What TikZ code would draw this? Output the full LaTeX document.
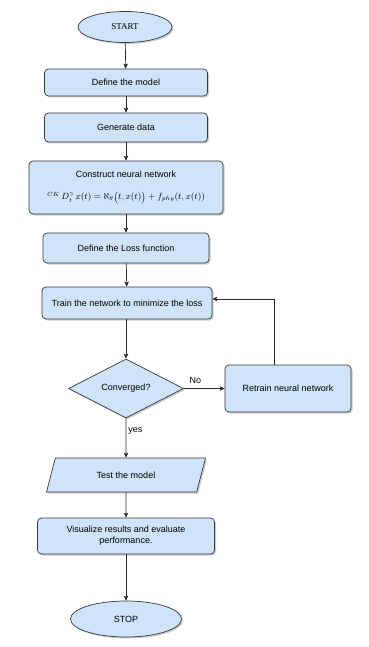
\documentclass[tikz,border=0pt]{standalone}
\usepackage{fontspec}
\setmainfont{Liberation Sans}
\newfontfamily\serifx{Liberation Serif}
\usetikzlibrary{shapes.geometric,arrows.meta,shadows,calc}
\definecolor{boxfill}{RGB}{207,228,250}
\definecolor{boxline}{RGB}{54,57,61}
\definecolor{edgeline}{RGB}{40,40,40}
\begin{document}
\begin{tikzpicture}[x=1pt,y=-1pt,
  base/.style={draw=boxline, fill=boxfill, line width=0.7pt,
    font=\fontsize{9}{11}\selectfont, align=center, inner sep=0pt,
    drop shadow={shadow xshift=1.5pt, shadow yshift=-1.5pt, fill=black, opacity=0.2}},
  procbox/.style={base, rectangle, rounded corners=4pt},
  ovalbox/.style={base, ellipse},
  decbox/.style={base, diamond},
  iobox/.style={base, trapezium, trapezium left angle=61, trapezium right angle=119,
    trapezium stretches=true},
  arr/.style={draw=edgeline, line width=0.7pt, -{Stealth[length=5pt,width=4.5pt,inset=1.2pt]}},
  lbl/.style={font=\fontsize{9}{11}\selectfont, inner sep=0pt}
]
\useasboundingbox (0,0) rectangle (368,647);
\fill[white] (0,0) rectangle (368,647);

\node[ovalbox, minimum width=94pt, minimum height=31pt, font=\serifx\fontsize{9}{11}\selectfont] (start) at (125,27) {START};
\node[procbox, minimum width=163pt, minimum height=27pt] (model) at (126,82.5) {Define the model};
\node[procbox, minimum width=163pt, minimum height=29pt] (gen) at (126,127.5) {Generate data};
\node[procbox, minimum width=194pt, minimum height=53pt] (nn) at (126,187.5)
  {Construct neural network\\[11pt]
   ${}^{CK}\,D_t^{\gamma}\,x(t) = \aleph_{\theta}\bigl(t, x(t)\bigr) + f_{phy}(t, x(t))$};
\node[procbox, minimum width=166pt, minimum height=30pt] (loss) at (126,248) {Define the Loss function};
\node[procbox, minimum width=170pt, minimum height=32pt] (train) at (127,303) {Train the network to minimize the loss};
\node[decbox, minimum width=115pt, minimum height=59pt, aspect=1.95] (conv) at (126,388.5) {Converged?};
\node[procbox, minimum width=126pt, minimum height=47pt] (retrain) at (288,388.5) {Retrain neural network};
\node[iobox, minimum width=160pt, minimum height=34pt] (test) at (126,475) {Test the model};
\node[procbox, minimum width=177pt, minimum height=36pt] (vis) at (126,536) {Visualize results and evaluate\\performance.};
\node[ovalbox, minimum width=111pt, minimum height=36pt] (stop) at (126,619) {STOP};

\draw[arr] (start) -- (model);
\draw[arr] (model) -- (gen);
\draw[arr] (gen) -- (nn);
\draw[arr] (nn) -- (loss);
\draw[arr] (loss) -- (train);
\draw[arr] (train.south -| conv.north) -- (conv.north);
\draw[arr] (conv.east) -- node[lbl, above=5pt, pos=0.28] {No} (retrain.west);
\draw[arr] ([xshift=-14pt]retrain.north) |- ([yshift=4pt]train.east);
\draw[arr] (conv.south) -- node[lbl, right=2pt, pos=0.32] {yes} (test.north);
\draw[arr] (test.south) -- (vis.north);
\draw[arr] (vis.south) -- (stop.north);
\end{tikzpicture}
\end{document}
